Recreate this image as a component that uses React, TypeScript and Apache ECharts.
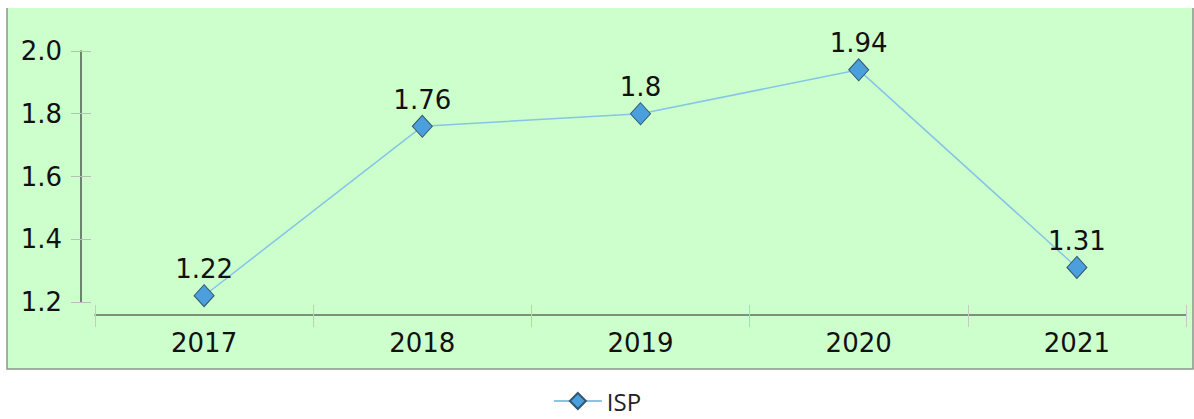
import React, { useEffect, useRef } from "react";
import * as echarts from "echarts";

const categories = ["2017", "2018", "2019", "2020", "2021"];
const ispValues = [1.22, 1.76, 1.8, 1.94, 1.31];
const seriesName = "ISP";
const yMin = 1.2;
const yMax = 2.0;
const yStep = 0.2;

const FONT = "DejaVu Sans";

export default function App() {
  const ref = useRef<HTMLDivElement>(null);
  useEffect(() => {
    if (!ref.current) return;
    const chart = echarts.init(ref.current, undefined, { renderer: "svg" });
    chart.setOption({
      animation: false,
      backgroundColor: "#ffffff",
      graphic: [
        {
          type: "rect",
          z: -100,
          silent: true,
          shape: { x: 7, y: 8, width: 1186, height: 361 },
          style: { fill: "#ccffcc" },
        },
        {
          type: "polyline",
          z: -99,
          silent: true,
          shape: { points: [[7, 8], [7, 369], [1193, 369], [1193, 8]] },
          style: { fill: null, stroke: "#8c958c", lineWidth: 1.5 },
        },
      ],
      grid: { left: 95, right: 8, top: 51, bottom: 117, containLabel: false },
      legend: {
        data: [seriesName],
        left: "center",
        top: 388,
        itemWidth: 48,
        itemHeight: 20,
        itemGap: 10,
        padding: 0,
        textStyle: { fontFamily: "Open Sans", fontSize: 24, lineHeight: 26, color: "#222" },
      },
      xAxis: [
        {
          type: "category",
          data: categories,
          boundaryGap: true,
          position: "bottom",
          offset: 13,
          axisLine: { show: true, lineStyle: { color: "#5f6e5f", width: 1.5 } },
          axisTick: { show: true, inside: false, length: 12, lineStyle: { color: "#c4cbc4", width: 1 } },
          axisLabel: { fontFamily: FONT, fontSize: 26, color: "#111", margin: 15 },
          splitLine: { show: false },
        },
        {
          type: "category",
          data: categories,
          boundaryGap: true,
          position: "bottom",
          offset: 13,
          axisLine: { show: false },
          axisTick: { show: true, inside: true, length: 10, lineStyle: { color: "#c4cbc4", width: 1 } },
          axisLabel: { show: false },
          splitLine: { show: false },
        },
      ],
      yAxis: [
        {
          type: "value",
          min: yMin,
          max: yMax,
          interval: yStep,
          position: "left",
          offset: 14,
          axisLine: { show: true, lineStyle: { color: "#4f5a4f", width: 1.5 } },
          axisTick: { show: true, inside: false, length: 10, lineStyle: { color: "#b8c0b8", width: 1 } },
          axisLabel: {
            fontFamily: FONT,
            fontSize: 26,
            color: "#111",
            margin: 19,
            formatter: (v: number) => v.toFixed(1),
          },
          splitLine: { show: false },
        },
        {
          type: "value",
          min: yMin,
          max: yMax,
          interval: yStep,
          position: "left",
          offset: 14,
          axisLine: { show: false },
          axisTick: { show: true, inside: true, length: 10, lineStyle: { color: "#b8c0b8", width: 1 } },
          axisLabel: { show: false },
          splitLine: { show: false },
        },
      ],
      series: [
        {
          name: seriesName,
          type: "line",
          data: ispValues,
          xAxisIndex: 0,
          yAxisIndex: 0,
          symbol: "diamond",
          symbolSize: [20, 22],
          itemStyle: { color: "#4a9fdc", borderColor: "#34566e", borderWidth: 1 },
          lineStyle: { color: "#86c5e6", width: 1.5 },
          label: {
            show: true,
            position: "top",
            distance: 2,
            fontFamily: FONT,
            fontSize: 26,
            color: "#111",
          },
        },
      ],
    });
    return () => chart.dispose();
  }, []);
  return (
    <div
      ref={ref}
      style={{ position: "fixed", left: 0, top: 0, width: 1194, height: 419 }}
    />
  );
}
